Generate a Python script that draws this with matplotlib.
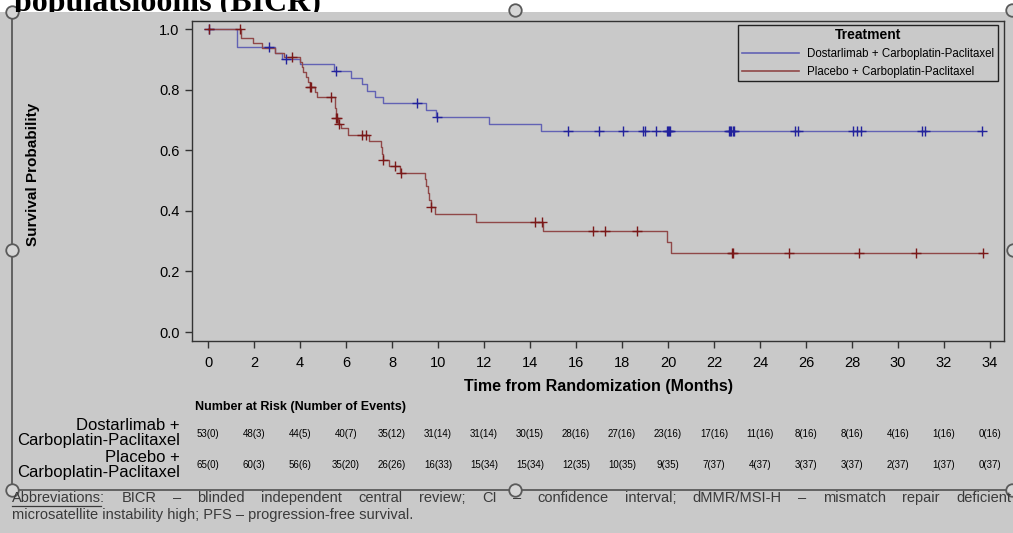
import matplotlib
matplotlib.use('Agg')
import numpy as np
import matplotlib.pyplot as plt
from matplotlib.lines import Line2D
from matplotlib.patches import Rectangle
from matplotlib import transforms
from matplotlib.transforms import Bbox, TransformedBbox

# ---------------- data ----------------
blue_name = "Dostarlimab + Carboplatin-Paclitaxel"
red_name = "Placebo + Carboplatin-Paclitaxel"

blue_t = [0, 1.28, 2.9, 3.2, 4.0, 5.49, 6.2, 6.68, 6.9, 7.26, 7.6, 9.5, 9.91, 12.23, 14.5]
blue_s = [1.0, 0.942, 0.921, 0.901, 0.883, 0.861, 0.839, 0.817, 0.796, 0.774, 0.755, 0.733, 0.708, 0.685, 0.663]
blue_end = 33.64
blue_cens = [0.05, 2.64, 3.39, 5.57, 9.07, 9.95, 15.67, 17.0, 18.06, 18.93, 19.0, 19.5,
             19.95, 20.0, 20.05, 20.1, 22.64, 22.7, 22.76, 22.82, 22.88, 25.52, 25.67,
             28.03, 28.2, 28.4, 31.03, 31.17, 33.64]

red_t = [0, 1.45, 1.94, 2.33, 2.9, 3.3, 4.0, 4.08, 4.15, 4.25, 4.35, 4.42, 4.65, 4.72,
         5.5, 5.52, 5.55, 5.57, 5.67, 5.77, 6.1, 7.02, 7.53, 7.56, 7.59, 7.88, 8.35,
         9.43, 9.5, 9.56, 9.62, 9.68, 9.87, 11.65, 14.58, 19.97, 20.12]
red_s = [1.0, 0.969, 0.954, 0.938, 0.922, 0.906, 0.890, 0.874, 0.858, 0.842, 0.826, 0.810,
         0.792, 0.775, 0.757, 0.740, 0.722, 0.705, 0.688, 0.672, 0.650, 0.631, 0.610,
         0.589, 0.568, 0.548, 0.526, 0.504, 0.481, 0.459, 0.436, 0.411, 0.388, 0.362,
         0.334, 0.297, 0.260]
red_end = 33.7
red_cens = [0.05, 1.39, 3.64, 4.43, 4.48, 5.33, 5.58, 5.6, 5.7, 6.68, 6.86, 7.62, 8.13,
            8.39, 9.7, 14.2, 14.52, 16.72, 17.26, 18.67, 22.77, 22.83, 25.27, 28.3, 30.8, 33.7]

x_ticks = list(range(0, 35, 2))
y_ticks = [0.0, 0.2, 0.4, 0.6, 0.8, 1.0]

risk_blue = ["53(0)", "48(3)", "44(5)", "40(7)", "35(12)", "31(14)", "31(14)", "30(15)", "28(16)",
             "27(16)", "23(16)", "17(16)", "11(16)", "8(16)", "8(16)", "4(16)", "1(16)", "0(16)"]
risk_red = ["65(0)", "60(3)", "56(6)", "35(20)", "26(26)", "16(33)", "15(34)", "15(34)", "12(35)",
            "10(35)", "9(35)", "7(37)", "4(37)", "3(37)", "3(37)", "2(37)", "1(37)", "0(37)"]

title_text = "populatsioonis (BICR)"
abbr_line1 = ["Abbreviations:", "BICR", "\u2013", "blinded", "independent", "central", "review;",
              "CI", "\u2013", "confidence", "interval;", "dMMR/MSI-H", "\u2013", "mismatch",
              "repair", "deficient"]
abbr_line2 = "microsatellite instability high; PFS \u2013 progression-free survival."

# ---------------- figure ----------------
W, H = 1013, 533
BG = '#c9c9c9'
plt.rcParams['font.family'] = ['Liberation Sans', 'DejaVu Sans']

fig = plt.figure(figsize=(W / 100, H / 100), dpi=100)
fig.patch.set_facecolor(BG)

def fx(px):
    return px / W

def fy(py):
    return 1 - py / H

# white strip at top with clipped title
fig.add_artist(Rectangle((0, fy(12)), 1, 12 / H, transform=fig.transFigure,
                         facecolor='white', edgecolor='none', zorder=0))
tt = fig.text(fx(14), fy(11.5), title_text, fontfamily=['Liberation Serif', 'DejaVu Serif'],
              fontweight='bold', fontsize=23, ha='left', va='baseline', color='black')
tt.set_clip_box(TransformedBbox(Bbox([[0, fy(12)], [1, 1]]), fig.transFigure))
tt.set_clip_on(True)

ax = fig.add_axes([fx(192), fy(341), (1004 - 192) / W, (341 - 20.7) / H])
ax.set_facecolor(BG)
ax.set_xlim(-0.696, 34.61)
ax.set_ylim(-0.0297, 1.0274)

blue_line = '#6262b4'
blue_mark = '#22229c'
red_line = '#904848'
red_mark = '#7a1818'

def surv_at(tlist, slist, times):
    idx = np.searchsorted(np.asarray(tlist), np.asarray(times), side='right') - 1
    return np.asarray(slist)[idx]

ax.step(blue_t + [blue_end], blue_s + [blue_s[-1]], where='post', color=blue_line, lw=1.0, zorder=3)
ax.step(red_t + [red_end], red_s + [red_s[-1]], where='post', color=red_line, lw=1.0, zorder=3)
ax.plot(blue_cens, surv_at(blue_t, blue_s, blue_cens), ls='none', marker='+', ms=7, mew=1.0,
        color=blue_mark, zorder=4)
ax.plot(red_cens, surv_at(red_t, red_s, red_cens), ls='none', marker='+', ms=7, mew=1.0,
        color=red_mark, zorder=4)

ax.set_xticks(x_ticks)
ax.set_xticklabels([str(v) for v in x_ticks])
ax.set_yticks(y_ticks)
ax.set_yticklabels([f"{v:.1f}" for v in y_ticks])
ax.tick_params(axis='x', direction='out', length=5, width=1, color='#333333', labelsize=10.5, pad=6)
ax.tick_params(axis='y', direction='out', length=5, width=1, color='#333333', labelsize=10.5, pad=4)
for sp in ax.spines.values():
    sp.set_color('#333333')
    sp.set_linewidth(1)

fig.text(fx(598), fy(386), "Time from Randomization (Months)", ha='center', va='center',
         fontsize=11.5, fontweight='bold')
fig.text(fx(33), fy(174), "Survival Probability", ha='center', va='center', rotation=90,
         fontsize=11, fontweight='bold')

handles = [Line2D([], [], color=blue_line, lw=1.2), Line2D([], [], color=red_line, lw=1.2)]
leg = ax.legend(handles, [blue_name, red_name], title="Treatment", loc='upper right',
                bbox_to_anchor=(fx(998), fy(25)), bbox_transform=fig.transFigure,
                borderaxespad=0, fontsize=8.3, title_fontproperties={'weight': 'bold', 'size': 10},
                frameon=True, fancybox=False, edgecolor='#222222', facecolor=BG, framealpha=1,
                handlelength=5.0, handletextpad=0.7, borderpad=0.3, labelspacing=0.5)
leg.get_frame().set_linewidth(1)

# number at risk table
trans = transforms.blended_transform_factory(ax.transData, fig.transFigure)
fig.text(fx(195), fy(407), "Number at Risk (Number of Events)", ha='left', va='center',
         fontsize=9, fontweight='bold')
for xv, a, b in zip(x_ticks, risk_blue, risk_red):
    ax.text(xv, fy(434), a, transform=trans, ha='center', va='center', fontsize=7, clip_on=False)
    ax.text(xv, fy(465), b, transform=trans, ha='center', va='center', fontsize=7, clip_on=False)
fig.text(fx(180), fy(433.5), "Dostarlimab +\nCarboplatin-Paclitaxel", ha='right', va='center',
         multialignment='right', fontsize=12, linespacing=1.0)
fig.text(fx(180), fy(464.5), "Placebo +\nCarboplatin-Paclitaxel", ha='right', va='center',
         multialignment='right', fontsize=12, linespacing=1.0)

# frame/handles of the embedded picture
edge = '#5a5a5a'
fig.add_artist(Line2D([fx(12), fx(12)], [fy(12), fy(490)], color=edge, lw=1.3, transform=fig.transFigure))
fig.add_artist(Line2D([fx(12), fx(1013)], [fy(490), fy(490)], color=edge, lw=1.3, transform=fig.transFigure))
for (cx, cy) in [(12, 12), (515, 10), (1012, 10), (12, 250), (12, 490), (515, 490), (1012, 490), (1013, 250)]:
    fig.add_artist(Line2D([fx(cx)], [fy(cy)], marker='o', ms=9, mfc='#d6d6d6', mec=edge, mew=1.3,
                          ls='none', transform=fig.transFigure))

# abbreviations (justified first line)
acol = '#3a3a3a'
afs = 10.5
fig.canvas.draw()
renderer = fig.canvas.get_renderer()
words = []
widths = []
for w in abbr_line1:
    t = fig.text(0, fy(498), w, fontsize=afs, color=acol, ha='left', va='center')
    words.append(t)
    widths.append(t.get_window_extent(renderer).width)
x0, x1 = 12.0, 1011.0
gap = (x1 - x0 - sum(widths)) / (len(words) - 1)
xc = x0
for t, wd in zip(words, widths):
    t.set_x(fx(xc))
    xc += wd + gap
tmp = fig.text(0, 0, "Abbreviations", fontsize=afs)
ul_w = tmp.get_window_extent(renderer).width
tmp.remove()
fig.add_artist(Line2D([fx(12), fx(12 + ul_w)], [fy(505.5), fy(505.5)], color=acol, lw=0.9,
                      transform=fig.transFigure))
fig.text(fx(12), fy(515), abbr_line2, fontsize=afs, color=acol, ha='left', va='center')

fig.savefig('out.png', dpi=100, facecolor=fig.get_facecolor())
